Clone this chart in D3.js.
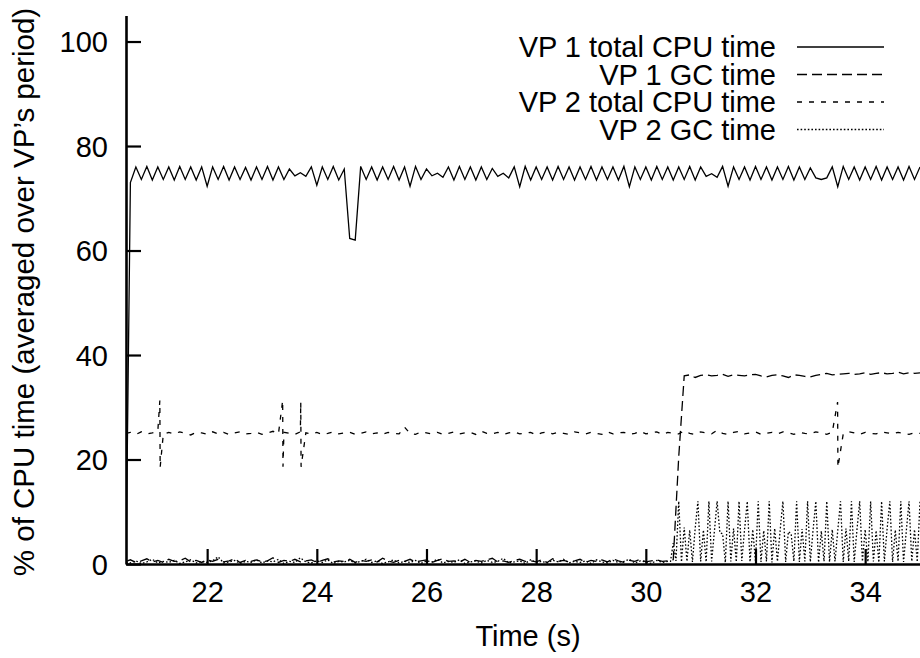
<!DOCTYPE html>
<html><head><meta charset="utf-8">
<script src="https://cdn.jsdelivr.net/npm/d3@7"></script>
<style>
body{margin:0;background:#fff}
svg{display:block}
text{font-family:"Liberation Sans",Arial,Helvetica,sans-serif;fill:#000}
</style>
</head><body>
<svg id="chart" width="920" height="658"></svg>
<script>
// ---------- DATA ----------
const seriesNames = ["VP 1 total CPU time", "VP 1 GC time", "VP 2 total CPU time", "VP 2 GC time"];
const xTicks = [22, 24, 26, 28, 30, 32, 34];
const yTicks = [0, 20, 40, 60, 80, 100];

// sampling times (s)
const time = [20.52,
  20.6,20.7,20.8,20.9,21.0,21.1,21.2,21.3,21.4,21.5,
  21.6,21.7,21.8,21.9,22.0,22.1,22.2,22.3,22.4,22.5,
  22.6,22.7,22.8,22.9,23.0,23.1,23.2,23.3,23.4,23.5,
  23.6,23.7,23.8,23.9,24.0,24.1,24.2,24.3,24.4,24.5,
  24.6,24.7,24.8,24.9,25.0,25.1,25.2,25.3,25.4,25.5,
  25.6,25.7,25.8,25.9,26.0,26.1,26.2,26.3,26.4,26.5,
  26.6,26.7,26.8,26.9,27.0,27.1,27.2,27.3,27.4,27.5,
  27.6,27.7,27.8,27.9,28.0,28.1,28.2,28.3,28.4,28.5,
  28.6,28.7,28.8,28.9,29.0,29.1,29.2,29.3,29.4,29.5,
  29.6,29.7,29.8,29.9,30.0,30.1,30.2,30.3,30.4,30.5,
  30.6,30.7,30.8,30.9,31.0,31.1,31.2,31.3,31.4,31.5,
  31.6,31.7,31.8,31.9,32.0,32.1,32.2,32.3,32.4,32.5,
  32.6,32.7,32.8,32.9,33.0,33.1,33.2,33.3,33.4,33.5,
  33.6,33.7,33.8,33.9,34.0,34.1,34.2,34.3,34.4,34.5,
  34.6,34.7,34.8,34.9,35.0];

const vp1Total = [0,
  73.0,76.0,73.6,76.1,73.5,76.0,73.6,76.0,73.5,76.1,
  73.6,76.0,73.5,76.0,72.3,76.0,73.6,76.1,73.5,76.0,
  73.6,75.9,73.5,76.0,73.6,76.1,73.5,76.0,73.6,75.6,
  74.3,74.9,74.2,76.0,72.5,76.0,73.6,76.1,73.5,75.6,
  62.3,62.0,76.1,73.6,76.0,73.5,76.0,73.6,76.1,73.5,
  76.0,72.3,76.1,73.6,75.6,74.3,74.8,74.0,76.0,73.5,
  76.1,73.6,76.0,73.5,76.0,73.6,75.7,74.2,74.8,73.9,
  76.0,72.2,76.1,73.5,76.0,73.6,76.0,73.5,76.1,73.6,
  76.0,73.5,76.0,73.6,76.1,73.5,76.0,73.6,76.0,73.5,
  76.1,72.2,76.0,73.6,76.0,73.5,76.1,73.6,76.0,73.5,
  76.0,73.6,76.1,73.5,76.0,74.2,74.7,74.0,76.1,72.3,
  76.0,73.6,76.0,73.5,76.1,73.6,76.0,73.5,76.0,73.6,
  76.1,73.5,76.0,73.6,75.8,73.9,73.6,73.9,76.0,72.2,
  76.1,73.6,76.0,73.5,76.0,73.6,76.1,73.5,76.0,73.6,
  76.0,73.5,76.1,73.6,76.0];

const vp1Gc = [0.5,
  0.8,0.3,0.6,1.0,0.4,0.7,0.3,0.9,0.5,0.6,
  1.1,0.4,0.7,0.3,0.8,0.5,0.9,0.4,0.6,1.0,
  0.3,0.7,0.5,0.8,0.4,0.6,1.2,0.3,0.7,0.5,
  0.9,0.4,0.6,0.8,0.3,0.7,1.0,0.4,0.6,0.5,
  0.9,0.3,0.7,0.5,0.8,0.4,1.1,0.6,0.3,0.7,
  0.5,0.9,0.4,0.6,0.8,0.3,0.7,1.0,0.5,0.6,
  0.4,0.9,0.3,0.7,0.5,0.8,1.1,0.4,0.6,0.3,
  0.7,0.9,0.5,0.6,0.4,0.8,0.3,1.0,0.5,0.7,
  0.4,0.6,0.9,0.3,0.7,0.5,0.8,0.4,1.0,0.6,
  0.3,0.7,0.5,0.9,0.4,0.6,0.8,0.5,0.6,0.8,
  20.5,36.0,36.2,35.7,36.1,36.2,36.0,36.1,36.3,35.9,
  36.2,36.1,36.0,36.2,36.3,36.0,35.8,36.1,36.2,36.0,
  35.7,36.2,36.1,35.9,35.8,36.1,36.3,36.5,36.2,36.3,
  36.4,36.5,36.3,36.4,36.6,36.3,36.5,36.6,36.4,36.5,
  36.7,36.4,36.6,36.5,36.6];

const vp2Total = [25.0,
  25.2,24.8,25.3,24.9,25.1,25.4,24.8,25.2,24.9,25.3,
  25.0,24.7,25.2,25.1,24.8,25.3,24.9,25.2,24.8,25.1,
  25.3,24.9,25.0,25.2,24.8,25.1,25.4,24.9,25.2,25.0,
  24.8,25.3,25.1,24.9,25.2,24.8,25.0,25.3,24.9,25.1,
  25.2,24.8,25.0,25.3,24.9,25.1,24.8,25.2,25.0,24.9,
  26.2,25.0,24.8,25.3,25.1,24.9,25.2,24.8,25.0,25.3,
  24.9,25.1,25.2,24.8,25.4,25.0,24.9,25.2,24.8,25.1,
  25.3,24.9,25.0,25.2,24.7,25.1,25.3,24.9,25.2,25.0,
  24.8,25.3,25.1,24.9,25.2,25.0,24.8,25.3,24.9,25.1,
  25.2,24.8,25.0,25.4,24.9,25.1,25.3,24.8,25.2,25.0,
  24.9,25.5,25.0,24.8,25.3,25.1,24.9,25.6,25.0,24.8,
  25.2,25.4,24.9,25.1,25.3,24.8,25.0,25.2,24.9,25.3,
  25.1,24.8,25.2,25.0,24.9,25.3,25.1,24.8,25.2,25.0,
  24.9,25.3,25.1,24.8,25.2,25.0,24.9,25.3,25.1,24.9,
  25.2,25.0,24.8,25.1,25.0];
// short spikes of VP 2 total (time, high, low)
const vp2SpikeTime = [21.14, 23.38, 23.71, 33.50];
const vp2SpikeHigh = [31.3, 31.3, 31.0, 31.0];
const vp2SpikeLow  = [18.5, 18.6, 18.6, 18.5];

// VP 2 GC: coarse part (first 100 samples of `time`), then fine sampling
const vp2GcCoarse = [0.3,
  0.2,0.6,0.1,0.4,0.9,0.2,0.5,0.3,0.7,0.1,
  0.4,0.8,0.2,0.5,0.3,0.6,1.4,0.2,0.4,0.7,
  0.1,0.5,0.3,0.8,0.2,0.6,0.4,0.9,0.1,0.5,
  0.3,1.2,0.4,0.2,0.6,0.3,0.8,0.1,0.5,0.4,
  0.7,0.2,0.5,0.9,0.3,0.6,0.1,0.4,0.8,0.2,
  0.5,0.3,0.7,0.1,0.6,0.4,0.9,0.2,0.5,0.3,
  0.8,0.1,0.4,0.6,0.2,0.7,0.3,0.5,1.1,0.2,
  0.4,0.6,0.1,0.8,0.3,0.5,0.2,0.7,0.4,0.9,
  0.2,0.5,0.3,0.6,0.1,0.8,0.4,0.2,0.7,0.3,
  0.5,0.9,0.2,0.6,0.4,0.1,0.7,0.3,0.5];
const fineTime = [
  30.45,30.5,30.55,30.6,30.65,30.7,30.75,30.8,30.85,30.9,
  30.95,31.0,31.05,31.1,31.15,31.2,31.25,31.3,31.35,31.4,
  31.45,31.5,31.55,31.6,31.65,31.7,31.75,31.8,31.85,31.9,
  31.95,32.0,32.05,32.1,32.15,32.2,32.25,32.3,32.35,32.4,
  32.45,32.5,32.55,32.6,32.65,32.7,32.75,32.8,32.85,32.9,
  32.95,33.0,33.05,33.1,33.15,33.2,33.25,33.3,33.35,33.4,
  33.45,33.5,33.55,33.6,33.65,33.7,33.75,33.8,33.85,33.9,
  33.95,34.0,34.05,34.1,34.15,34.2,34.25,34.3,34.35,34.4,
  34.45,34.5,34.55,34.6,34.65,34.7,34.75,34.8,34.85,34.9,
  34.95,35.0];
const vp2GcFine = [
  0.5,4.0,0.6,12.0,0.4,7.0,0.5,6.5,0.4,6.8,
  12.0,0.5,6.5,0.4,12.0,0.5,6.2,12.0,6.0,5.8,
  0.3,12.0,0.5,6.8,0.4,12.0,0.6,6.5,12.0,0.4,
  6.6,0.5,12.0,0.4,6.4,0.5,12.0,0.3,6.8,0.5,
  6.5,12.0,0.4,6.2,5.8,0.5,12.0,0.4,6.7,0.5,
  12.0,0.4,6.5,12.0,0.3,6.3,0.5,12.0,0.4,6.6,
  0.5,6.4,12.0,0.4,6.8,0.5,12.0,0.4,6.5,12.0,
  0.5,6.6,0.4,12.0,0.5,6.4,0.3,12.0,0.5,6.7,
  12.0,0.4,6.5,0.5,12.0,0.4,6.3,12.0,0.5,6.6,
  0.4,12.0];

// ---------- BUILD SERIES ----------
function zipSeries(ts, vs){ return ts.map((t,i)=>[t, vs[i]]); }
const sVp1Total = zipSeries(time, vp1Total);
const sVp1Gc = zipSeries(time, vp1Gc);
let sVp2Total = zipSeries(time, vp2Total);
vp2SpikeTime.forEach((t,i)=>{
  sVp2Total.push([t-0.003, vp2SpikeHigh[i]], [t+0.003, vp2SpikeLow[i]]);
});
sVp2Total.sort((a,b)=>a[0]-b[0]);
const sVp2Gc = zipSeries(time.slice(0, vp2GcCoarse.length), vp2GcCoarse)
  .concat(zipSeries(fineTime, vp2GcFine));

const series = [
  {name: seriesNames[0], data: sVp1Total, dash: null},
  {name: seriesNames[1], data: sVp1Gc, dash: "10,5"},
  {name: seriesNames[2], data: sVp2Total, dash: "5,7"},
  {name: seriesNames[3], data: sVp2Gc, dash: "1.6,2"}
];

// ---------- CHART ----------
const FS = 29;
const svg = d3.select("#chart");
const x = d3.scaleLinear().domain([20.52, 35.0]).range([126, 920]);
const y = d3.scaleLinear().domain([0, 105]).range([564, 15.4]);

svg.append("defs").append("clipPath").attr("id","clip")
  .append("rect").attr("x",126).attr("y",0).attr("width",794).attr("height",566);

const line = d3.line().x(d=>x(d[0])).y(d=>y(d[1]));
const plot = svg.append("g").attr("clip-path","url(#clip)");
series.forEach(s=>{
  plot.append("path").datum(s.data)
    .attr("d", line)
    .attr("fill","none")
    .attr("stroke","#000")
    .attr("stroke-width", 1.3)
    .attr("stroke-linejoin","miter")
    .attr("stroke-dasharray", s.dash);
});

// axes
const xAxis = d3.axisBottom(x).tickValues(xTicks).tickFormat(d3.format("d"))
  .tickSizeInner(-15).tickSizeOuter(0).tickPadding(17);
const yAxis = d3.axisLeft(y).tickValues(yTicks).tickFormat(d3.format("d"))
  .tickSizeInner(-15).tickSizeOuter(0).tickPadding(18);

const gx = svg.append("g").attr("transform","translate(0,564)").call(xAxis);
const gy = svg.append("g").attr("transform","translate(126,0)").call(yAxis);
[gx, gy].forEach(g=>{
  g.select(".domain").attr("stroke","#000").attr("stroke-width",2.6);
  g.selectAll(".tick line").attr("stroke","#000").attr("stroke-width",2.2);
  g.selectAll(".tick text").attr("font-size",FS).attr("font-family",'"Liberation Sans",Arial,sans-serif').attr("fill","#000");
});
gy.selectAll(".tick text").attr("dy","0.36em");

// axis titles
svg.append("text").attr("x", 528).attr("y", 646).attr("text-anchor","middle")
  .attr("font-size",FS).text("Time (s)");
svg.append("text").attr("transform","translate(34,292) rotate(-90)")
  .attr("text-anchor","middle").attr("font-size",29.5)
  .text("% of CPU time (averaged over VP\u2019s period)");

// legend
const legendRowY = [47, 74.5, 102, 129.5];
const lg = svg.append("g");
series.forEach((s,i)=>{
  lg.append("text").attr("x",776).attr("y",legendRowY[i]).attr("dy","0.36em")
    .attr("text-anchor","end").attr("font-size",FS).text(s.name);
  lg.append("line").attr("x1",797).attr("x2",884)
    .attr("y1",legendRowY[i]).attr("y2",legendRowY[i])
    .attr("stroke","#000").attr("stroke-width",1.3)
    .attr("stroke-dasharray", s.dash);
});
</script>
</body></html>
